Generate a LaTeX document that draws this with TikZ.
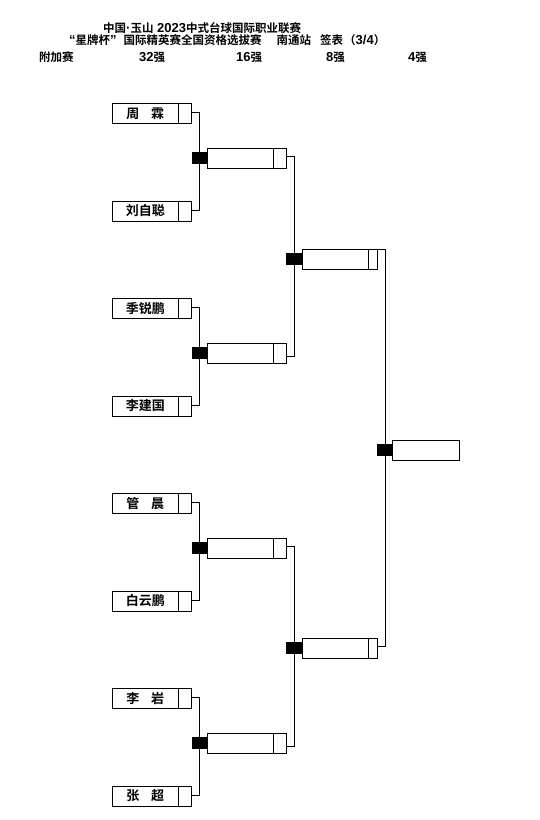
\documentclass[tikz,border=0pt]{standalone}
\usepackage{fontspec}
\newfontfamily\cjk{Noto Sans CJK SC}[BoldFont={Noto Sans CJK SC Bold}]
\newfontfamily\latfam{Liberation Sans}
\newcommand{\latn}[1]{{\latfam\bfseries\fontsize{13}{14}\selectfont #1}}
\begin{document}
\begin{tikzpicture}[x=1pt,y=-1pt,
  cell/.style={draw=black,line width=0.9pt,minimum height=20pt,inner sep=0pt,outer sep=0pt,anchor=west,font=\cjk\bfseries\fontsize{13}{14}\selectfont},
  blk/.style={fill=black,draw=none,minimum width=16pt,minimum height=12pt,inner sep=0pt,outer sep=0pt},
  hdr/.style={font=\cjk\bfseries\fontsize{11.5}{12}\selectfont,inner sep=0pt,anchor=base west},
  wire/.style={line width=0.9pt}]
\useasboundingbox (0,0) rectangle (540,820);
% headers
\node[hdr] (h1) at (103,32) {中国\latn{·}玉山\latn{ 2023}中式台球国际职业联赛};
\node[hdr] (h2) at (69,44.5) {\latn{“}星牌杯\latn{”}\hspace{7pt}国际精英赛全国资格选拔赛\hspace{15pt}南通站\hspace{9pt}签表\hspace{1pt}（\latn{3/4}）};
\node[hdr] (c0) at (39,61.5) {附加赛};
\node[hdr] (c1) at (139,61.5) {\latn{32}强};
\node[hdr] (c2) at (236,61.5) {\latn{16}强};
\node[hdr] (c3) at (326,61.5) {\latn{8}强};
\node[hdr] (c4) at (408,61.5) {\latn{4}强};
% players
\foreach \i/\nm in {1/{周\hspace{0.9em}霖},2/刘自聪,3/季锐鹏,4/李建国,5/{管\hspace{0.9em}晨},6/白云鹏,7/{李\hspace{0.9em}岩},8/{张\hspace{0.9em}超}}{
  \node[cell,minimum width=65.5pt] (p\i) at (112.5,{113.5+97.5*(\i-1)}) {\nm};
  \node[cell,minimum width=13.5pt] (ps\i) at (p\i.east) {};
}
% round 2
\foreach \j in {1,2,3,4}{
  \node[blk] (b\j) at (199.5,{158+195*(\j-1)}) {};
  \node[cell,minimum width=66pt] (r\j) at (b\j.east) {};
  \node[cell,minimum width=13pt] (rs\j) at (r\j.east) {};
}
% round 3
\foreach \k in {1,2}{
  \node[blk] (q\k) at (294,{259+389*(\k-1)}) {};
  \node[cell,minimum width=66pt] (t\k) at (q\k.east) {};
  \node[cell,minimum width=9pt] (ts\k) at (t\k.east) {};
}
% round 4
\node[blk] (f1) at (384.5,450) {};
\node[cell,minimum width=66.5pt] (u1) at (f1.east) {};
% connectors round 1
\foreach \a/\b in {1/2,3/4,5/6,7/8}{
  \draw[wire] ([yshift=1.5pt]ps\a.east) -- ++(8,0) |- ([yshift=1pt]ps\b.east);
}
% connectors round 2
\draw[wire] ([yshift=2pt]rs1.east) -- ++(8,0) |- ([yshift=-3pt]rs2.east);
\draw[wire] ([yshift=2pt]rs3.east) -- ++(8,0) |- ([yshift=-3pt]rs4.east);
% connectors round 3
\draw[wire] ([yshift=10pt]ts1.east) -- ++(8,0) |- ([yshift=2pt]ts2.east);
\end{tikzpicture}
\end{document}
